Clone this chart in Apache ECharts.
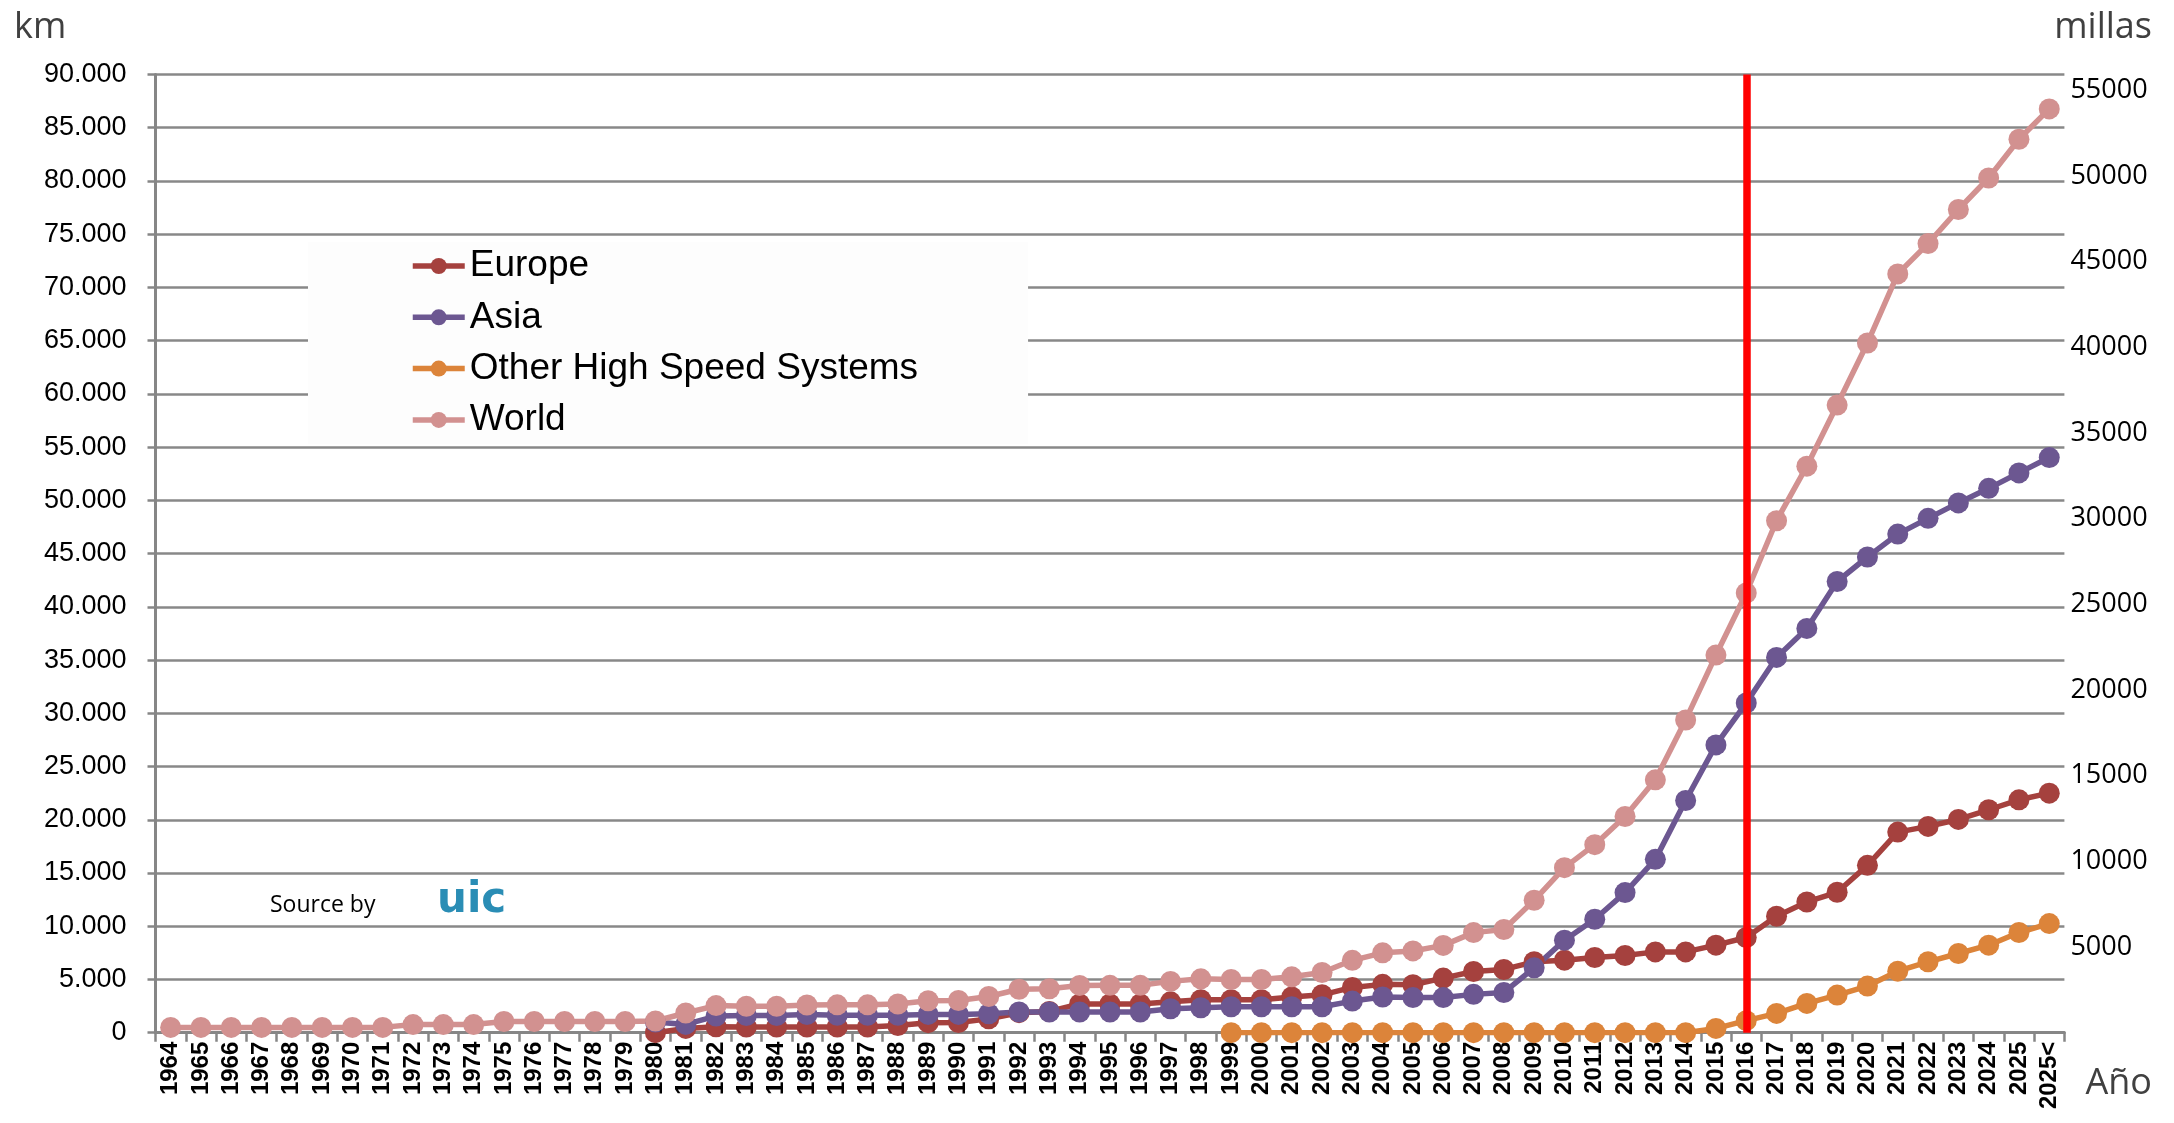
<!DOCTYPE html>
<html>
<head>
<meta charset="utf-8">
<script src="https://cdn.jsdelivr.net/npm/echarts@6/dist/echarts.min.js"></script>
<style>
html, body { margin: 0; padding: 0; background: #fff; }
#chart { width: 2174px; height: 1123px; }
</style>
</head>
<body>
<div id="chart"></div>
<script>
// years on the category axis
const years = []
for (let y = 1964; y <= 2025; y++) years.push(String(y))
years.push('2025<')

// km of high speed lines
const europe = [
    null, null, null, null, null, null, null, null, null, null, null, null, null, null, null, null,
    0, 400, 560, 540, 540, 540, 540, 540, 680, 940,
    950, 1300, 1880, 2000, 2700, 2700, 2700, 2900, 3100, 3100,
    3100, 3350, 3560, 4250, 4540, 4500, 5130, 5750, 5940, 6660,
    6810, 7060, 7250, 7590, 7590, 8220, 8940, 10940, 12280, 13190,
    15720, 18840, 19375, 20030, 20940, 21875, 22500
]
const asia = [
    null, null, null, null, null, null, null, null, null, null, null, null, null, null, null, null,
    1000, 780, 1560, 1620, 1620, 1700, 1640, 1640, 1640, 1720,
    1720, 1780, 1940, 1940, 1940, 1940, 1940, 2250, 2340, 2440,
    2440, 2440, 2440, 2970, 3350, 3300, 3300, 3600, 3780, 6090,
    8690, 10660, 13160, 16280, 21810, 27030, 30970, 35250, 37970, 42380,
    44680, 46830, 48310, 49760, 51130, 52580, 54020
]
const other = [
    null, null, null, null, null, null, null, null, null, null, null, null, null, null, null, null,
    null, null, null, null, null, null, null, null, null, null,
    null, null, null, null, null, null, null, null, null, 0,
    0, 0, 0, 0, 0, 0, 0, 0, 0, 0,
    0, 0, 0, 0, 0, 400, 1130, 1810, 2750, 3530,
    4380, 5780, 6660, 7440, 8220, 9410, 10250
]
const world = [
    500, 500, 500, 500, 500, 500, 500, 500, 760, 760, 760, 1050, 1050, 1050, 1050, 1050,
    1100, 1850, 2550, 2480, 2480, 2600, 2620, 2620, 2700, 3000,
    3020, 3400, 4080, 4130, 4440, 4450, 4450, 4820, 5060, 5000,
    5000, 5250, 5650, 6800, 7500, 7680, 8200, 9400, 9690, 12440,
    15500, 17660, 20310, 23750, 29375, 35470, 41300, 48090, 53210, 58950,
    64780, 71270, 74120, 77320, 80280, 83920, 86770
]
const seriesNames = ['Europe', 'Asia', 'Other High Speed Systems', 'World']
const seriesColors = ['#a5413e', '#6c5791', '#dc843a', '#d29190']
const markYear = '2016'
const KM_PER_MILE = 1.609344

const chart = echarts.init(document.getElementById('chart'))

const dotted = v => String(v).replace(/\B(?=(\d{3})+(?!\d))/g, '.')

function lineSeries (i, data) {
    return {
        name: seriesNames[i],
        type: 'line',
        data: data,
        symbol: 'circle',
        symbolSize: 21,
        lineStyle: {width: 5.5, color: seriesColors[i]},
        itemStyle: {color: seriesColors[i]},
        connectNulls: false
    }
}

const series = [
    lineSeries(0, europe),
    lineSeries(1, asia),
    lineSeries(2, other),
    lineSeries(3, world)
]
series[2].markLine = {
    silent: true,
    symbol: 'none',
    label: {show: false},
    lineStyle: {color: '#ff0000', width: 7.5, type: 'solid'},
    data: [{xAxis: markYear}]
}

const option = {
    animation: false,
    backgroundColor: '#ffffff',
    grid: {
        left: 155.5,
        right: 109.6,
        top: 74.5,
        bottom: 90.3,
        containLabel: false,
        outerBoundsMode: 'none'
    },
    legend: {
        orient: 'vertical',
        left: 308,
        top: 242,
        padding: [4, 110, 4, 102],
        backgroundColor: '#fdfdfd',
        itemWidth: 52,
        itemHeight: 20,
        itemGap: 11.3,
        data: seriesNames,
        lineStyle: {width: 5.5},
        textStyle: {
            fontFamily: 'Liberation Sans',
            fontSize: 37,
            lineHeight: 40,
            color: '#000'
        }
    },
    xAxis: {
        type: 'category',
        data: years,
        boundaryGap: true,
        axisLine: {lineStyle: {color: '#868686', width: 3}},
        axisTick: {show: true, length: 9, lineStyle: {color: '#868686', width: 2.5}},
        axisLabel: {
            interval: 0,
            rotate: 90,
            margin: 9,
            color: '#000',
            fontFamily: 'Liberation Sans',
            fontSize: 24,
            fontWeight: 'bold'
        }
    },
    yAxis: [
        {
            type: 'value',
            min: 0,
            max: 90000,
            interval: 5000,
            axisLine: {show: true, lineStyle: {color: '#868686', width: 3}},
            axisTick: {show: true, length: 8, lineStyle: {color: '#868686', width: 2.5}},
            splitLine: {lineStyle: {color: '#888888', width: 2.7}},
            axisLabel: {
                margin: 29,
                color: '#000',
                fontFamily: 'Liberation Sans',
                fontSize: 27,
                formatter: dotted
            }
        },
        {
            type: 'value',
            position: 'right',
            min: 0,
            max: 90000 / KM_PER_MILE,
            interval: 5000,
            axisLine: {show: false},
            axisTick: {show: false},
            splitLine: {show: false},
            axisLabel: {
                margin: 6,
                color: '#000',
                fontFamily: 'Open Sans',
                fontSize: 27,
                showMaxLabel: false,
                formatter: v => (v > 0 && v % 5000 === 0) ? String(v) : ''
            }
        }
    ],
    graphic: [
        {type: 'text', left: 14, top: 10, style: {text: 'km', fontFamily: 'Open Sans', fontSize: 36, fill: '#404040'}},
        {type: 'text', right: 22, top: 10, style: {text: 'millas', fontFamily: 'Open Sans', fontSize: 36, fill: '#404040'}},
        {type: 'text', right: 22, top: 1066, style: {text: 'Año', fontFamily: 'Open Sans', fontSize: 36, fill: '#404040'}},
        {type: 'text', left: 270, top: 894, style: {text: 'Source by', fontFamily: 'Open Sans', fontSize: 23, fill: '#000'}},
        {type: 'text', left: 437, top: 880, style: {text: 'uic', fontFamily: 'DejaVu Sans', fontSize: 42, fontWeight: 'bold', fill: '#2a8db5'}}
    ],
    series: series
}

chart.setOption(option)
</script>
</body>
</html>
